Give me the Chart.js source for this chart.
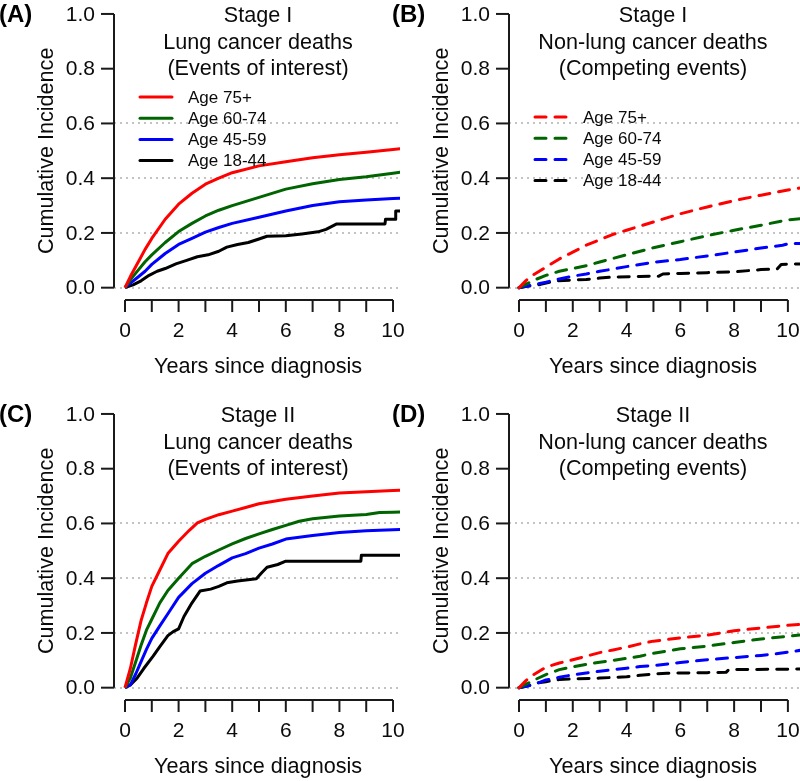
<!DOCTYPE html>
<html><head><meta charset="utf-8">
<script src="https://cdn.jsdelivr.net/npm/chart.js@4"></script>
<style>
html,body{margin:0;padding:0;background:#fff;}
#wrap{position:relative;width:800px;height:781px;overflow:hidden;background:#fff;}
canvas{position:absolute;}
.lab{position:absolute;font:bold 24px "Liberation Sans",Arial,sans-serif;color:#000;line-height:1;white-space:nowrap;}
</style></head><body>
<div id="wrap">
<canvas id="cA" width="410" height="390" style="left:0;top:0;width:410px;height:390px"></canvas>
<canvas id="cB" width="400" height="390" style="left:400px;top:0;width:400px;height:390px"></canvas>
<canvas id="cC" width="410" height="391" style="left:0;top:390px;width:410px;height:391px"></canvas>
<canvas id="cD" width="400" height="391" style="left:400px;top:390px;width:400px;height:391px"></canvas>
<div class="lab" style="left:-1px;top:2px">(A)</div>
<div class="lab" style="left:392px;top:2px">(B)</div>
<div class="lab" style="left:-1px;top:402px">(C)</div>
<div class="lab" style="left:392px;top:402px">(D)</div>
</div>
<script>
// ---- data ----
const AGE_GROUPS = ['Age 75+', 'Age 60-74', 'Age 45-59', 'Age 18-44'];
const X_TICKS = [0,1,2,3,4,5,6,7,8,9,10];
const X_TICK_LABELS = ['0','','2','','4','','6','','8','','10'];
const Y_TICKS = [0,0.2,0.4,0.6,0.8,1.0];
const Y_TICK_LABELS = ['0.0','0.2','0.4','0.6','0.8','1.0'];
const GRID_Y = [0,0.2,0.4,0.6];
const X_TITLE = 'Years since diagnosis';
const Y_TITLE = 'Cumulative Incidence';
const TITLE_A = ['Stage I','Lung cancer deaths','(Events of interest)'];
const TITLE_B = ['Stage I','Non-lung cancer deaths','(Competing events)'];
const TITLE_C = ['Stage II','Lung cancer deaths','(Events of interest)'];
const TITLE_D = ['Stage II','Non-lung cancer deaths','(Competing events)'];

// Panel A: Stage I, lung cancer deaths
const stageI_lung_75 = [[0,0],[0.25,0.05],[0.5,0.095],[0.75,0.14],[1,0.18],[1.5,0.25],[2,0.305],[2.5,0.345],[3,0.378],[3.5,0.40],[4,0.42],[5,0.445],[6,0.46],[7,0.475],[8,0.486],[9,0.495],[10,0.505],[10.5,0.51]];
const stageI_lung_60 = [[0,0],[0.25,0.035],[0.5,0.065],[0.75,0.095],[1,0.12],[1.5,0.165],[2,0.205],[2.5,0.235],[3,0.262],[3.5,0.283],[4,0.30],[5,0.33],[6,0.36],[7,0.38],[8,0.395],[9,0.405],[10,0.418],[10.5,0.425]];
const stageI_lung_45 = [[0,0],[0.25,0.02],[0.5,0.04],[0.75,0.06],[1,0.085],[1.5,0.125],[2,0.158],[2.5,0.18],[3,0.203],[3.5,0.22],[4,0.235],[5,0.257],[6,0.28],[7,0.30],[8,0.314],[9,0.32],[10,0.326],[10.5,0.328]];
const stageI_lung_18 = [[0,0],[0.3,0.01],[0.6,0.025],[0.9,0.045],[1.2,0.06],[1.5,0.07],[1.9,0.087],[2.3,0.1],[2.7,0.113],[3.1,0.12],[3.5,0.133],[3.8,0.148],[4.2,0.158],[4.6,0.165],[5.0,0.178],[5.3,0.188],[6.0,0.19],[6.6,0.196],[7.2,0.204],[7.5,0.213],[7.9,0.233],[9.7,0.233],[9.72,0.25],[10.08,0.25],[10.1,0.28],[10.5,0.28]];

// Panel B: Stage I, non-lung cancer deaths
const stageI_other_75 = [[0,0],[0.25,0.025],[0.5,0.045],[1,0.075],[1.5,0.105],[2,0.13],[2.5,0.155],[3,0.175],[3.5,0.195],[4,0.21],[5,0.24],[6,0.27],[7,0.295],[8,0.318],[9,0.338],[10,0.357],[10.5,0.365]];
const stageI_other_60 = [[0,0],[0.25,0.012],[0.5,0.025],[1,0.045],[1.5,0.06],[2,0.07],[2.5,0.08],[3,0.094],[3.5,0.107],[4,0.12],[5,0.146],[6,0.168],[7,0.19],[8,0.21],[9,0.228],[10,0.248],[10.5,0.252]];
const stageI_other_45 = [[0,0],[0.25,0.005],[0.5,0.01],[1,0.02],[1.5,0.032],[2,0.042],[2.5,0.05],[3,0.06],[3.5,0.068],[4,0.077],[5,0.093],[6,0.103],[7,0.116],[8,0.13],[9,0.145],[9.8,0.155],[10,0.16],[10.5,0.162]];
const stageI_other_18 = [[0,0],[0.3,0.005],[0.8,0.012],[1.4,0.025],[2,0.028],[2.5,0.03],[3,0.035],[3.5,0.039],[4.5,0.041],[5.2,0.042],[5.35,0.05],[6,0.052],[7,0.055],[8,0.058],[9,0.066],[9.6,0.068],[9.75,0.085],[10.5,0.087]];

// Panel C: Stage II, lung cancer deaths
const stageII_lung_75 = [[0,0],[0.2,0.07],[0.4,0.16],[0.6,0.245],[0.8,0.31],[1,0.37],[1.3,0.43],[1.6,0.49],[2,0.535],[2.4,0.575],[2.7,0.602],[3,0.615],[3.5,0.632],[4,0.645],[4.5,0.658],[5,0.672],[6,0.688],[7,0.70],[8,0.711],[9,0.716],[10,0.72],[10.5,0.722]];
const stageII_lung_60 = [[0,0],[0.2,0.035],[0.4,0.095],[0.6,0.155],[0.8,0.21],[1,0.25],[1.3,0.31],[1.6,0.355],[2,0.40],[2.5,0.453],[3,0.48],[3.5,0.503],[4,0.525],[4.5,0.545],[5,0.562],[5.5,0.578],[6,0.593],[6.5,0.608],[7,0.617],[8,0.627],[9,0.633],[9.5,0.64],[10,0.641],[10.5,0.643]];
const stageII_lung_45 = [[0,0],[0.2,0.01],[0.4,0.05],[0.6,0.095],[0.8,0.14],[1,0.18],[1.3,0.226],[1.6,0.27],[2,0.33],[2.5,0.38],[3,0.418],[3.5,0.447],[4,0.474],[4.5,0.49],[5,0.51],[5.5,0.525],[6,0.543],[7,0.556],[8,0.567],[9,0.573],[10,0.577],[10.5,0.579]];
const stageII_lung_18 = [[0,0],[0.2,0.01],[0.45,0.035],[0.7,0.07],[1.05,0.115],[1.3,0.15],[1.6,0.19],[1.8,0.205],[2.0,0.215],[2.2,0.26],[2.5,0.31],[2.8,0.353],[3.2,0.36],[3.5,0.37],[3.8,0.383],[4.2,0.39],[4.9,0.398],[5.1,0.42],[5.3,0.44],[5.7,0.45],[6.0,0.462],[8.8,0.462],[8.82,0.484],[10.5,0.484]];

// Panel D: Stage II, non-lung cancer deaths
const stageII_other_75 = [[0,0],[0.25,0.025],[0.5,0.045],[1,0.075],[1.5,0.09],[2,0.102],[2.5,0.115],[3,0.128],[3.5,0.138],[4,0.148],[4.5,0.16],[5,0.17],[6,0.182],[7,0.192],[8,0.208],[9,0.218],[10,0.228],[10.5,0.232]];
const stageII_other_60 = [[0,0],[0.25,0.012],[0.5,0.025],[1,0.048],[1.5,0.066],[2,0.076],[2.5,0.085],[3,0.093],[3.5,0.1],[4,0.107],[4.5,0.115],[5,0.126],[6,0.142],[7,0.152],[8,0.165],[9,0.178],[10,0.188],[10.5,0.193]];
const stageII_other_45 = [[0,0],[0.5,0.01],[1,0.028],[1.5,0.038],[2,0.047],[2.5,0.054],[3,0.06],[3.5,0.066],[4,0.071],[4.5,0.077],[5,0.081],[6,0.092],[7,0.102],[8,0.11],[9,0.118],[9.5,0.123],[10,0.13],[10.5,0.137]];
const stageII_other_18 = [[0,0],[0.3,0.006],[0.7,0.018],[1,0.022],[1.5,0.03],[2,0.032],[3,0.035],[4,0.04],[4.5,0.045],[5,0.05],[5.5,0.053],[7,0.055],[7.7,0.056],[7.8,0.066],[10.5,0.068]];

// ---- styling ----
const FONT = '"Liberation Sans", Arial, Helvetica, sans-serif';
const COLORS = ['#FF0000', '#006400', '#0000FF', '#000000'];

function toPts(arr){ return arr.map(p => ({x:p[0], y:p[1]})); }

const rStyle = {
  id: 'rStyle',
  beforeDatasetsDraw(chart, args, o) {
    const {ctx, chartArea:a, scales:{y}} = chart;
    ctx.save();
    ctx.strokeStyle = '#b0b0b0'; ctx.lineWidth = 1.5; ctx.setLineDash([2,4]);
    GRID_Y.forEach(v => {
      const py = Math.round(y.getPixelForValue(v));
      ctx.beginPath(); ctx.moveTo(a.left, py); ctx.lineTo(a.right, py); ctx.stroke();
    });
    ctx.restore();
  },
  afterDraw(chart, args, o) {
    const {ctx, chartArea:a, scales:{x, y}} = chart;
    ctx.save();
    ctx.strokeStyle = '#1a1a1a'; ctx.fillStyle = '#0a0a0a'; ctx.lineWidth = 2; ctx.setLineDash([]);
    // y axis
    const y0 = y.getPixelForValue(0), y1 = y.getPixelForValue(1);
    ctx.beginPath(); ctx.moveTo(a.left, y0); ctx.lineTo(a.left, y1); ctx.stroke();
    ctx.font = '21px ' + FONT; ctx.textAlign = 'right'; ctx.textBaseline = 'middle';
    Y_TICKS.forEach((v,i) => {
      const py = y.getPixelForValue(v);
      ctx.beginPath(); ctx.moveTo(a.left - 13, py); ctx.lineTo(a.left, py); ctx.stroke();
      ctx.fillText(Y_TICK_LABELS[i], a.left - 19, py + 1);
    });
    // x axis
    const xb = a.bottom;
    ctx.beginPath(); ctx.moveTo(x.getPixelForValue(0), xb); ctx.lineTo(x.getPixelForValue(10), xb); ctx.stroke();
    ctx.textAlign = 'center';
    X_TICKS.forEach((v,i) => {
      const px = x.getPixelForValue(v);
      ctx.beginPath(); ctx.moveTo(px, xb); ctx.lineTo(px, xb + 12); ctx.stroke();
      if (X_TICK_LABELS[i]) ctx.fillText(X_TICK_LABELS[i], px, xb + 31);
    });
    // axis titles
    ctx.font = '21.6px ' + FONT;
    ctx.fillText(X_TITLE, o.cx, xb + 67);
    ctx.save();
    ctx.translate(a.left - 67, (y0 + y1) / 2);
    ctx.rotate(-Math.PI / 2);
    ctx.fillText(Y_TITLE, 0, 0);
    ctx.restore();
    // panel titles
    o.title.forEach((t,i) => ctx.fillText(t, o.cx, y1 + 2.5 + i * 26.2));
    // legend
    if (o.legend) {
      const L = o.legend;
      ctx.font = '17px ' + FONT; ctx.textAlign = 'left';
      chart.data.datasets.forEach((ds, i) => {
        const ly = L.y + i * L.dy;
        ctx.save();
        ctx.strokeStyle = ds.borderColor; ctx.lineWidth = 3; ctx.lineCap = 'round';
        ctx.setLineDash(ds.borderDash || []);
        ctx.beginPath(); ctx.moveTo(L.x1, ly); ctx.lineTo(L.x2, ly); ctx.stroke();
        ctx.restore();
        ctx.fillText(ds.label, L.tx, ly + 1);
      });
    }
    ctx.restore();
  }
};

function makeChart(id, series, dashed, pad, xr, yr, opts) {
  const datasets = series.map((s, i) => ({
    label: AGE_GROUPS[i],
    data: toPts(s),
    borderColor: COLORS[i],
    borderWidth: 3,
    borderDash: dashed ? [11, 9] : [],
    borderCapStyle: dashed ? 'round' : 'butt',
    borderJoinStyle: 'round',
    pointRadius: 0,
    showLine: true,
    tension: 0,
    fill: false
  }));
  return new Chart(document.getElementById(id), {
    type: 'scatter',
    data: { datasets },
    options: {
      responsive: false, animation: false, devicePixelRatio: 1,
      layout: { padding: pad },
      scales: {
        x: { type: 'linear', display: false, min: xr[0], max: xr[1] },
        y: { type: 'linear', display: false, min: yr[0], max: yr[1] }
      },
      plugins: { legend: { display: false }, tooltip: { enabled: false }, rStyle: opts }
    },
    plugins: [rStyle]
  });
}

const XR_LEFT = [-0.41, 10.26];
const XR_RIGHT = [-0.372, 10.45];
const YR = [-0.045, 1.04];

makeChart('cA', [stageI_lung_75, stageI_lung_60, stageI_lung_45, stageI_lung_18], false,
  {left:114, right:10, top:3, bottom:90}, XR_LEFT, YR,
  {title: TITLE_A, cx: 258, legend: {x1:140, x2:172, tx:188, y:97, dy:21.2}});
makeChart('cB', [stageI_other_75, stageI_other_60, stageI_other_45, stageI_other_18], true,
  {left:109, right:0, top:3, bottom:90}, XR_RIGHT, YR,
  {title: TITLE_B, cx: 253, legend: {x1:135, x2:170, tx:183, y:117, dy:21.2}});
makeChart('cC', [stageII_lung_75, stageII_lung_60, stageII_lung_45, stageII_lung_18], false,
  {left:114, right:10, top:13, bottom:81}, XR_LEFT, YR,
  {title: TITLE_C, cx: 258});
makeChart('cD', [stageII_other_75, stageII_other_60, stageII_other_45, stageII_other_18], true,
  {left:109, right:0, top:13, bottom:81}, XR_RIGHT, YR,
  {title: TITLE_D, cx: 253});
</script>
</body></html>
